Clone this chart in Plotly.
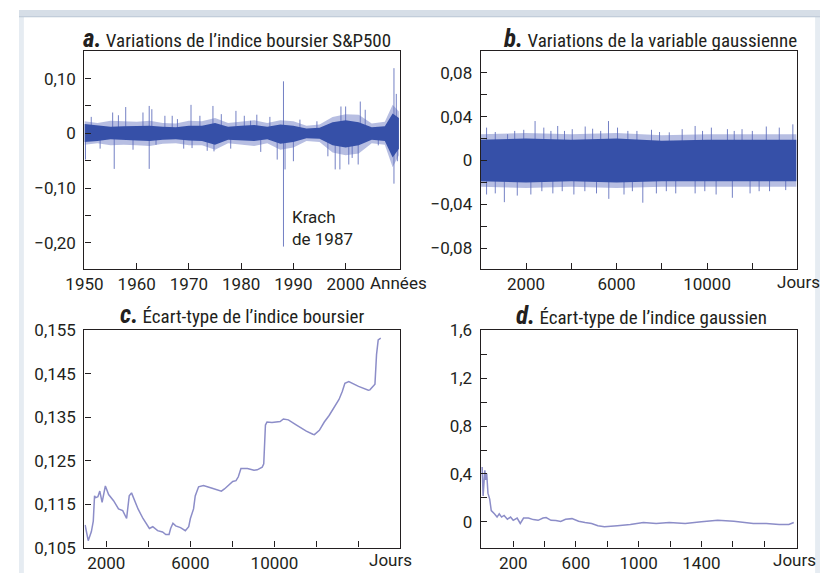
import plotly.graph_objects as go

# ---------------- DATA ----------------
# Panel a: S&P500 daily variations (envelope read from picture + isolated spikes)
years_env_a = [1950, 1952.5, 1955, 1957.5, 1960, 1962.5, 1965, 1967.5, 1970, 1972.5, 1975, 1977.5,
               1980, 1982.5, 1985, 1987.5, 1990, 1992.5, 1995, 1997.5, 2000, 2002.5, 2005, 2007.5, 2009, 2010.2]
core_hi_a = [0.017, 0.015, 0.012, 0.013, 0.013, 0.014, 0.012, 0.011, 0.014, 0.014, 0.019, 0.012,
             0.014, 0.015, 0.012, 0.016, 0.014, 0.009, 0.010, 0.020, 0.024, 0.020, 0.011, 0.013, 0.036, 0.028]
core_lo_a = [-0.016, -0.014, -0.011, -0.012, -0.013, -0.014, -0.012, -0.011, -0.013, -0.014, -0.021, -0.012,
             -0.013, -0.014, -0.011, -0.019, -0.016, -0.009, -0.010, -0.022, -0.026, -0.022, -0.012, -0.014, -0.044, -0.028]
fringe_hi_a = [0.022, 0.019, 0.023, 0.022, 0.021, 0.023, 0.019, 0.018, 0.023, 0.022, 0.028, 0.019,
               0.022, 0.024, 0.019, 0.024, 0.022, 0.014, 0.016, 0.030, 0.035, 0.034, 0.018, 0.021, 0.052, 0.040]
fringe_lo_a = [-0.021, -0.018, -0.022, -0.021, -0.022, -0.023, -0.019, -0.018, -0.022, -0.022, -0.030, -0.018,
               -0.021, -0.023, -0.018, -0.030, -0.026, -0.014, -0.016, -0.035, -0.040, -0.037, -0.018, -0.021, -0.062, -0.040]
spike_years_a = [1950.2, 1951.3, 1953.0, 1955.4, 1955.7, 1956.5, 1957.9, 1959.3, 1961.2, 1962.4, 1962.4,
                 1962.9, 1963.7, 1965.4, 1966.8, 1967.8, 1969.0, 1970.4, 1970.6, 1972.1, 1973.5, 1974.6,
                 1974.8, 1976.2, 1978.0, 1979.0, 1980.6, 1981.8, 1983.0, 1983.75, 1985.5, 1986.9, 1988.1,
                 1988.1, 1988.4, 1990.0, 1991.25, 1994.5, 1996.6, 1998.0, 1998.9, 1999.1, 2000.0, 2000.6,
                 2001.25, 2002.4, 2002.8, 2003.75, 2006.25, 2008.4, 2009.25, 2009.25, 2009.7, 2009.9]
spike_vals_a = [-0.048, 0.030, -0.028, 0.038, -0.065, 0.033, 0.048, -0.030, 0.038, 0.050, -0.065,
                0.044, -0.021, 0.032, 0.032, 0.026, -0.028, 0.052, -0.027, 0.032, -0.032, 0.050,
                -0.033, 0.035, -0.028, 0.041, 0.032, 0.023, 0.034, -0.034, 0.030, -0.048, 0.095,
                -0.207, -0.066, -0.051, 0.025, 0.022, -0.042, -0.066, -0.066, 0.049, 0.049, -0.057,
                -0.045, -0.057, 0.058, 0.043, -0.022, 0.022, 0.119, -0.092, 0.072, -0.051]

# Panel b: gaussian variable variations
days_env_b = [0, 2000, 4000, 6000, 8000, 10000, 12000, 13954]
core_hi_b = [0.019, 0.020, 0.019, 0.020, 0.018, 0.019, 0.019, 0.019]
core_lo_b = [-0.019, -0.020, -0.019, -0.020, -0.019, -0.019, -0.019, -0.019]
fringe_hi_b = [0.024, 0.025, 0.024, 0.025, 0.023, 0.024, 0.024, 0.024]
fringe_lo_b = [-0.024, -0.025, -0.024, -0.025, -0.024, -0.024, -0.024, -0.024]
spike_days_b = [257, 642, 1185, 1500, 1900, 2400, 2786, 3100, 3400, 3700, 4043, 4615, 4944, 5300, 5644,
                6043, 6500, 6900, 7544, 7900, 8330, 8900, 9473, 9800, 10190, 10900, 11200, 11545, 12000,
                12617, 13190, 13790,
                257, 642, 1043, 1614, 2214, 2700, 3186, 3600, 4115, 4600, 5115, 5658, 6330, 6700, 7160,
                7760, 8200, 8616, 9473, 9900, 10400, 11117, 11900, 12300, 12760, 13475]
spike_vals_b = [0.030, 0.026, 0.024, 0.027, 0.028, 0.036, 0.030, 0.027, 0.0315, 0.027, 0.0286, 0.031,
                0.029, 0.027, 0.036, 0.030, 0.027, 0.027, 0.028, 0.026, 0.0257, 0.0286, 0.0315, 0.027,
                0.030, 0.0286, 0.027, 0.0286, 0.027, 0.031, 0.030, 0.033,
                -0.031, -0.030, -0.038, -0.032, -0.031, -0.028, -0.030, -0.028, -0.031, -0.028, -0.030,
                -0.035, -0.031, -0.028, -0.0385, -0.030, -0.028, -0.030, -0.030, -0.028, -0.031, -0.034,
                -0.030, -0.028, -0.028, -0.027]

# Panel c: standard deviation of the stock index
days_c = [992, 1100, 1140, 1290, 1380, 1440, 1500, 1600, 1690, 1800, 1955, 2110, 2345, 2580, 2780, 2965,
          3090, 3200, 3355, 3510, 3745, 4050, 4210, 4440, 4675, 4830, 4985, 5060, 5170, 5300, 5530,
          5760, 5920, 6000, 6150, 6230, 6390, 6620, 7000, 7235, 7475, 7620, 7780, 8015, 8170, 8280,
          8405, 8715, 9025, 9180, 9415, 9490, 9570, 9645, 9880, 10110, 10270, 10425, 10660, 11050,
          11515, 11825, 11900, 12135, 12370, 12600, 12835, 13070, 13225, 13350, 13535, 14000, 14465,
          14540, 14780, 14855, 14935, 15055]
std_c = [0.1102, 0.1072, 0.1066, 0.1087, 0.1111, 0.1169, 0.1165, 0.1167, 0.1180, 0.1154, 0.1192, 0.1172,
         0.1158, 0.1139, 0.1135, 0.1117, 0.1169, 0.1176, 0.1158, 0.1139, 0.1117, 0.1094, 0.1098, 0.1089,
         0.1086, 0.1080, 0.1080, 0.1094, 0.1106, 0.1100, 0.1096, 0.1089, 0.1098, 0.1117, 0.1139, 0.1169,
         0.1190, 0.1193, 0.1187, 0.1183, 0.1180, 0.1185, 0.1191, 0.1202, 0.1204, 0.1213, 0.1232, 0.1232,
         0.1228, 0.1229, 0.1235, 0.1243, 0.1332, 0.1339, 0.1338, 0.1339, 0.1340, 0.1346, 0.1344, 0.1332,
         0.1318, 0.1311, 0.1310, 0.1320, 0.1339, 0.1354, 0.1372, 0.1391, 0.1409, 0.1428, 0.1432, 0.1421,
         0.1412, 0.1413, 0.1426, 0.1494, 0.1528, 0.1532]

# Panel d: standard deviation of the gaussian index
days_d = [2, 8, 19, 25, 31, 39, 50, 60, 80, 97, 111, 126, 142, 163, 183, 200, 225, 245, 266, 297,
          328, 359, 390, 410, 441, 472, 503, 534, 575, 617, 658, 700, 740, 782, 864, 947, 1030, 1112,
          1195, 1297, 1400, 1504, 1607, 1669, 1731, 1814, 1896, 1958, 1989]
std_d = [0.458, 0.216, 0.43, 0.35, 0.404, 0.24, 0.19, 0.094, 0.067, 0.04, 0.067, 0.04, 0.054,
         0.022, 0.04, 0.013, 0.032, -0.013, 0.032, 0.032, 0.019, 0.013, 0.032, 0.036, 0.013, 0.012,
         0.003, 0.022, 0.027, 0.005, -0.005, -0.013, -0.032, -0.04, -0.032, -0.022, -0.005, -0.013,
         -0.005, -0.013, 0.0, 0.013, 0.005, -0.005, -0.013, -0.013, -0.022, -0.022, -0.005]

# Tick labels
ticks_a_x = [1950, 1960, 1970, 1980, 1990, 2000]
ticks_a_y = [-0.2, -0.15, -0.1, -0.05, 0, 0.05, 0.1]
labels_a_y = ["\u22120,20", "", "\u22120,10", "", "0", "", "0,10"]
ticks_b_x = [2000, 4000, 6000, 8000, 10000, 12000]
labels_b_x = ["2000", "", "6000", "", "10000", ""]
ticks_b_y = [-0.08, -0.06, -0.04, -0.02, 0, 0.02, 0.04, 0.06, 0.08]
labels_b_y = ["\u22120,08", "", "\u22120,04", "", "0", "", "0,04", "", "0,08"]
ticks_c_x = [2000, 4000, 6000, 8000, 10000, 12000, 14000]
labels_c_x = ["2000", "", "6000", "", "10000", "", ""]
ticks_c_y = [0.105, 0.115, 0.125, 0.135, 0.145, 0.155]
labels_c_y = ["0,105", "0,115", "0,125", "0,135", "0,145", "0,155"]
ticks_d_x = [200, 400, 600, 800, 1000, 1200, 1400, 1600, 1800]
labels_d_x = ["200", "", "600", "", "1000", "", "1400", "", ""]
ticks_d_y = [0, 0.2, 0.4, 0.6, 0.8, 1.0, 1.2, 1.4, 1.6]
labels_d_y = ["0", "", "0,4", "", "0,8", "", "1,2", "", "1,6"]

titles = ["<b><i><span style='font-size:25px'>a.</span></i></b> Variations de l\u2019indice boursier S&P500",
          "<b><i><span style='font-size:25px'>b.</span></i></b> Variations de la variable gaussienne",
          "<b><i><span style='font-size:25px'>c.</span></i></b> \u00c9cart-type de l\u2019indice boursier",
          "<b><i><span style='font-size:25px'>d.</span></i></b> \u00c9cart-type de l\u2019indice gaussien"]

# ---------------- STYLE ----------------
W, H = 820, 583
FONT_T = "Roboto Condensed, DejaVu Sans Condensed, Liberation Sans Narrow, Roboto, sans-serif"
FONT_N = "Roboto, Lato, sans-serif"
TXT = "#231f20"
CORE = "#3650a8"
FRINGE = "rgba(95,110,190,0.45)"
SPIKE = "rgba(90,106,186,0.85)"
STD = "#8c8dc8"

fig = go.Figure()


def band(x, hi, lo, color, xa, ya):
    fig.add_trace(go.Scatter(x=list(x) + list(x)[::-1], y=list(hi) + list(lo)[::-1],
                             fill="toself", fillcolor=color, line=dict(width=0),
                             mode="lines", hoverinfo="skip", showlegend=False,
                             xaxis=xa, yaxis=ya))


def spikes(xs, vs, color, xa, ya):
    sx, sy = [], []
    for a, v in zip(xs, vs):
        sx += [a, a, None]
        sy += [0, v, None]
    fig.add_trace(go.Scatter(x=sx, y=sy, mode="lines", line=dict(color=color, width=1),
                             hoverinfo="skip", showlegend=False, xaxis=xa, yaxis=ya))


band(years_env_a, fringe_hi_a, fringe_lo_a, FRINGE, "x", "y")
spikes(spike_years_a, spike_vals_a, SPIKE, "x", "y")
band(years_env_a, core_hi_a, core_lo_a, CORE, "x", "y")
band(days_env_b, fringe_hi_b, fringe_lo_b, FRINGE, "x2", "y2")
spikes(spike_days_b, spike_vals_b, SPIKE, "x2", "y2")
band(days_env_b, core_hi_b, core_lo_b, CORE, "x2", "y2")
fig.add_trace(go.Scatter(x=days_c, y=std_c, mode="lines", line=dict(color=STD, width=1.5),
                         showlegend=False, xaxis="x3", yaxis="y3"))
fig.add_trace(go.Scatter(x=days_d, y=std_d, mode="lines", line=dict(color=STD, width=1.5),
                         showlegend=False, xaxis="x4", yaxis="y4"))


def px_x(p):
    return p / W


def px_y(p):
    return 1 - p / H


dom_left = [px_x(67), px_x(390)]
dom_right = [px_x(472.7), px_x(796)]
dom_top = [px_y(268), px_y(42)]
dom_bot = [px_y(556.7), px_y(331.7)]

axis_common = dict(showline=True, linecolor=TXT, linewidth=1.3, mirror=True, ticks="inside",
                   ticklen=6, tickwidth=1.3, tickcolor=TXT, showgrid=False, zeroline=False,
                   tickfont=dict(size=17, color=TXT, family=FONT_N), tickmode="array", fixedrange=True)

fig.update_layout(
    width=W, height=H, margin=dict(l=0, r=0, t=0, b=0),
    paper_bgcolor="white", plot_bgcolor="white",
    font=dict(family=FONT_N, color=TXT),
    xaxis=dict(axis_common, domain=dom_left, anchor="y", range=[1950, 2010.4],
               tickvals=ticks_a_x, ticktext=[str(t) for t in ticks_a_x]),
    yaxis=dict(axis_common, domain=dom_top, anchor="x", range=[-0.2476, 0.1512],
               tickvals=ticks_a_y, ticktext=labels_a_y, ticklabelstandoff=4),
    xaxis2=dict(axis_common, domain=dom_right, anchor="y2", range=[0, 13954],
                tickvals=ticks_b_x, ticktext=labels_b_x),
    yaxis2=dict(axis_common, domain=dom_top, anchor="x2", range=[-0.0988, 0.1003],
                tickvals=ticks_b_y, ticktext=labels_b_y, ticklabelstandoff=4),
    xaxis3=dict(axis_common, domain=dom_left, anchor="y3", range=[960, 15970],
                tickvals=ticks_c_x, ticktext=labels_c_x),
    yaxis3=dict(axis_common, domain=dom_bot, anchor="x3", range=[0.105, 0.155],
                tickvals=ticks_c_y, ticktext=labels_c_y, ticklabelstandoff=4),
    xaxis4=dict(axis_common, domain=dom_right, anchor="y4", range=[-7, 2007],
                tickvals=ticks_d_x, ticktext=labels_d_x),
    yaxis4=dict(axis_common, domain=dom_bot, anchor="x4", range=[-0.215, 1.6],
                tickvals=ticks_d_y, ticktext=labels_d_y, ticklabelstandoff=4),
)

# frame decoration
fig.add_shape(type="rect", xref="paper", yref="paper", x0=0, x1=1, y0=px_y(7), y1=1,
              fillcolor="#d6dee7", line=dict(width=0), layer="below")
fig.add_shape(type="line", xref="paper", yref="paper", x0=0, x1=1, y0=px_y(7), y1=px_y(7),
              line=dict(color="#b9c5d3", width=1))
fig.add_shape(type="rect", xref="paper", yref="paper", x0=0, x1=px_x(5), y0=0, y1=px_y(7),
              fillcolor="#e6ecf2", line=dict(width=0), layer="below")
fig.add_shape(type="rect", xref="paper", yref="paper", x0=px_x(815), x1=1, y0=0, y1=px_y(7),
              fillcolor="#e6ecf2", line=dict(width=0), layer="below")

title_pos = [(223, 29), (646, 29), (228, 315), (637, 316)]
for t, (cx, cy) in zip(titles, title_pos):
    fig.add_annotation(text=t, x=px_x(cx), y=px_y(cy), xref="paper", yref="paper",
                       showarrow=False, xanchor="center", yanchor="middle",
                       font=dict(size=19, color=TXT, family=FONT_T))

unit_pos = [("Ann\u00e9es", 389, 283), ("Jours", 798, 282), ("Jours", 380, 570), ("Jours", 794, 570)]
for t, cx, cy in unit_pos:
    fig.add_annotation(text=t, x=px_x(cx), y=px_y(cy), xref="paper", yref="paper",
                       showarrow=False, xanchor="center", yanchor="middle",
                       font=dict(size=17, color=TXT, family=FONT_N))

fig.add_annotation(text="Krach<br>de 1987", x=px_x(277), y=px_y(226), xref="paper", yref="paper",
                   showarrow=False, xanchor="left", yanchor="middle", align="left",
                   font=dict(size=17, color=TXT, family=FONT_N))

fig.write_html("out.html", config={"displayModeBar": False},
               post_script="document.body.style.margin='0';document.documentElement.style.overflow='hidden';window.scrollTo(0,0);")
